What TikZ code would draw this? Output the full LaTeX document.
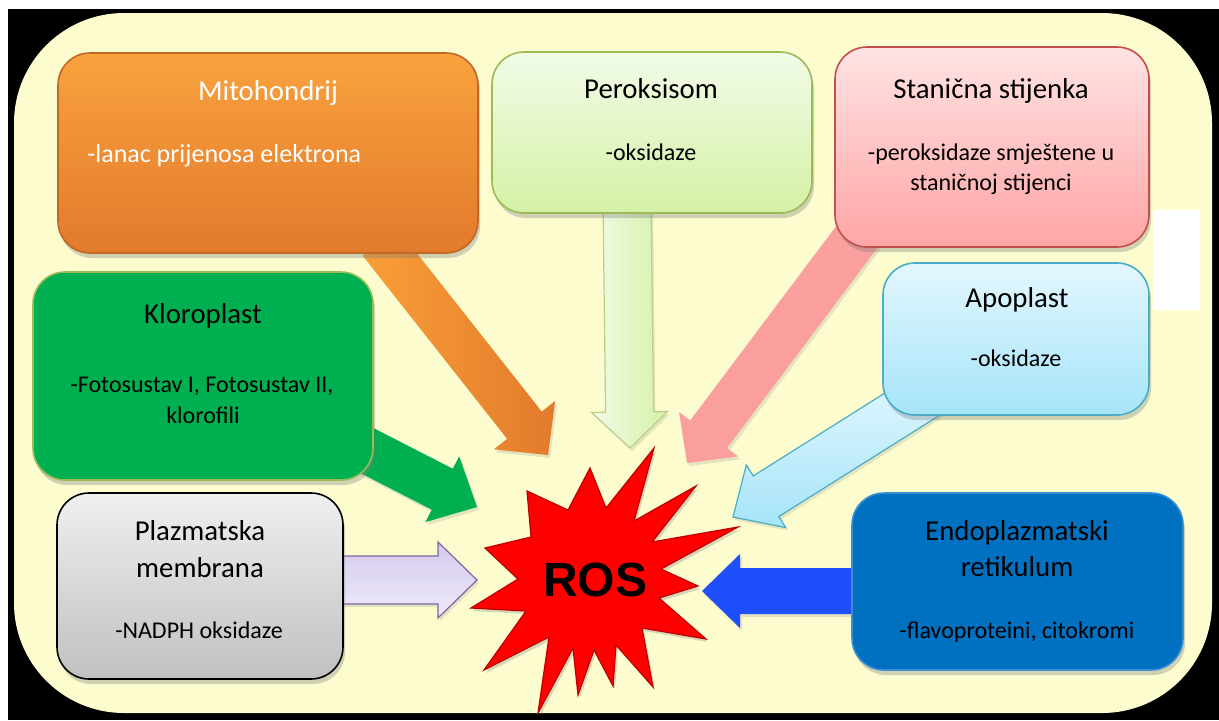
\documentclass[tikz,border=0pt]{standalone}
\usepackage{fontspec}
\setmainfont{Carlito}
\newfontfamily\rosfont{Liberation Sans}
\usepackage{tikz}
\usetikzlibrary{calc, shadows}

\definecolor{bgyellow}{HTML}{FCFCCE}
\definecolor{mitotop}{HTML}{F9A23E}
\definecolor{mitobot}{HTML}{E27A2C}
\definecolor{peroxtop}{HTML}{F1FBE7}
\definecolor{peroxbot}{HTML}{D5F1A6}
\definecolor{peroxline}{HTML}{9BBB59}
\definecolor{stantop}{HTML}{FFE3E3}
\definecolor{stanbot}{HTML}{FFA5A5}
\definecolor{stanline}{HTML}{C0504D}
\definecolor{apotop}{HTML}{E3F7FE}
\definecolor{apobot}{HTML}{A6E4F9}
\definecolor{apoline}{HTML}{4BACC6}
\definecolor{klorgreen}{HTML}{00B050}
\definecolor{plaztop}{HTML}{EFEFEF}
\definecolor{plazbot}{HTML}{C0C0C0}
\definecolor{endoblue}{HTML}{0070C0}
\definecolor{endoline}{HTML}{3A8FD2}
\definecolor{pinkarrow}{HTML}{FA9E9E}
\definecolor{lilactop}{HTML}{D4CAEE}
\definecolor{lilacbot}{HTML}{EEEAF9}
\definecolor{lilacline}{HTML}{8064A2}
\definecolor{bluearrow}{HTML}{1F4FFB}
\definecolor{rosred}{HTML}{FF0000}

% block arrow: style, from, to, half shaft, half head, head length
\newcommand{\fatarrow}[6]{%
  \coordinate (fa-h) at ($(#3)!#6!(#2)$);
  \draw[#1] ($(#2)!#4!90:(#3)$) -- ($(fa-h)!#4!90:(#3)$) -- ($(fa-h)!#5!90:(#3)$) -- (#3)
    -- ($(fa-h)!#5!-90:(#3)$) -- ($(fa-h)!#4!-90:(#3)$) -- ($(#2)!#4!-90:(#3)$) -- cycle;
}

\begin{document}
\begin{tikzpicture}[x=0.5pt, y=-0.5pt,
    box/.style={rounded corners=16pt, inner sep=0pt, line width=0.8pt,
      drop shadow={shadow xshift=1pt, shadow yshift=-2.5pt, opacity=0.35}},
    arr/.style={line width=0.6pt, line join=miter,
      drop shadow={shadow xshift=1pt, shadow yshift=-1.5pt, opacity=0.2}},
    title/.style={anchor=base, inner sep=0pt, font=\fontsize{14.4}{17}\selectfont},
    sub/.style={anchor=base, inner sep=0pt, font=\fontsize{12}{15}\selectfont}
  ]
  \useasboundingbox (0,0) rectangle (1219,720);
  \fill[white] (0,0) rectangle (1219,720);
  \fill[black] (8,9) rectangle (1219,720);
  \fill[bgyellow, rounded corners=55pt] (14,13) rectangle (1212,713);
  \fill[white] (1153,210) rectangle (1200,310);

  % where the arrows start and end
  \coordinate (mito-out) at (380,242);
  \coordinate (mito-in) at (548,455);
  \coordinate (perox-out) at (627,200);
  \coordinate (perox-in) at (630,448);
  \coordinate (stan-out) at (862,230);
  \coordinate (stan-in) at (687,463);
  \coordinate (apo-out) at (930,393);
  \coordinate (apo-in) at (733,517);
  \coordinate (klor-out) at (362,448);
  \coordinate (klor-in) at (477,507);
  \coordinate (plaz-out) at (335,580);
  \coordinate (plaz-in) at (477,580);
  \coordinate (endo-out) at (860,591);
  \coordinate (endo-in) at (702,591);

  \fatarrow{arr, draw=none, left color=mitotop!90!orange, right color=mitobot}{mito-out}{mito-in}{11pt}{19.5pt}{19pt}
  \fatarrow{arr, draw=peroxline!70, left color=peroxtop, right color=peroxbot}{perox-out}{perox-in}{12pt}{19pt}{18pt}
  \fatarrow{arr, draw=none, fill=pinkarrow}{stan-out}{stan-in}{11.5pt}{18.5pt}{18pt}
  \fatarrow{arr, draw=apoline, top color=apotop, bottom color=apobot}{apo-out}{apo-in}{12pt}{18.5pt}{19.5pt}
  \fatarrow{arr, draw=none, fill=klorgreen}{klor-out}{klor-in}{11.5pt}{18.5pt}{19.5pt}
  \fatarrow{arr, draw=lilacline, top color=lilactop, bottom color=lilacbot}{plaz-out}{plaz-in}{12pt}{19pt}{19.5pt}
  \fatarrow{arr, draw=none, fill=bluearrow}{endo-out}{endo-in}{11.5pt}{18.5pt}{19pt}

  % boxes
  \node[box, draw=mitobot!85!black, top color=mitotop, bottom color=mitobot,
    minimum width=210pt, minimum height=100pt] (mito) at (268,153) {};
  \node[box, draw=peroxline, top color=peroxtop, bottom color=peroxbot,
    minimum width=160pt, minimum height=80.5pt] (perox) at (652,132.5) {};
  \node[box, draw=stanline, top color=stantop, bottom color=stanbot,
    minimum width=157pt, minimum height=100pt] (stan) at (992,147) {};
  \node[box, draw=apoline, top color=apotop, bottom color=apobot,
    minimum width=133pt, minimum height=76pt] (apo) at (1016,339) {};
  \node[box, draw=peroxline, fill=klorgreen,
    minimum width=170pt, minimum height=104pt] (klor) at (203,376) {};
  \node[box, draw=black, top color=plaztop, bottom color=plazbot,
    minimum width=143pt, minimum height=93pt] (plaz) at (200,586) {};
  \node[box, draw=endoline, fill=endoblue,
    minimum width=165.5pt, minimum height=88.5pt] (endo) at (1017.5,581.5) {};

  % ROS
  \draw[fill=rosred, draw=rosred!75!black, line width=0.6pt, line join=miter,
    drop shadow={shadow xshift=1pt, shadow yshift=-1.5pt, opacity=0.3}]
    (590,468) -- (606,508) -- (654,448) -- (634,521) -- (696,486) -- (652,542)
    -- (738,527) -- (661,569) -- (698,586) -- (659,598) -- (706,639) -- (642,628)
    -- (653,687) -- (616,645) -- (613,686) -- (594,650) -- (578,695) -- (573,648)
    -- (538,713) -- (549,637) -- (484,670) -- (526,611) -- (471,608) -- (518,579)
    -- (485,548) -- (531,537) -- (527,491) -- (568,510) -- cycle;
  \node[font=\rosfont\fontsize{24}{28}\selectfont\bfseries] (ros) at (595,580) {ROS};

  % texts
  \node[title, text=white] (mito-t) at (268,100) {Mitohondrij};
  \node[sub, anchor=base west, text=white, font=\fontsize{13}{16}\selectfont] (mito-s) at (87,162) {-lanac prijenosa elektrona};

  \node[title] (perox-t) at (651,98) {Peroksisom};
  \node[sub] (perox-s) at (651,160) {-oksidaze};

  \node[title] (stan-t) at (991,98) {Stanična stijenka};
  \node[sub] (stan-s1) at (991,160) {-peroksidaze smještene u};
  \node[sub] (stan-s2) at (991,190) {staničnoj stijenci};

  \node[title] (apo-t) at (1017,307) {Apoplast};
  \node[sub] (apo-s) at (1016,366) {-oksidaze};

  \node[title] (klor-t) at (203,323) {Kloroplast};
  \node[sub] (klor-s1) at (202,392) {-Fotosustav I, Fotosustav II,};
  \node[sub] (klor-s2) at (203,423) {klorofili};

  \node[title] (plaz-t1) at (200,540) {Plazmatska};
  \node[title] (plaz-t2) at (200,577) {membrana};
  \node[sub] (plaz-s) at (199,638) {-NADPH oksidaze};

  \node[title] (endo-t1) at (1017,540) {Endoplazmatski};
  \node[title] (endo-t2) at (1017,576) {retikulum};
  \node[sub] (endo-s) at (1017,638) {-flavoproteini, citokromi};
\end{tikzpicture}
\end{document}
